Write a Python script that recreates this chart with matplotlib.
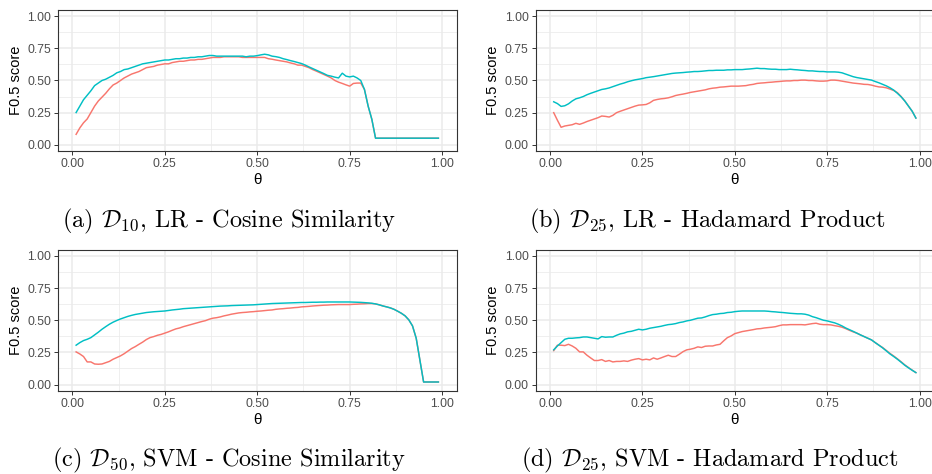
import numpy as np
import matplotlib
matplotlib.use("Agg")
import matplotlib.pyplot as plt
from matplotlib.ticker import MultipleLocator

plt.rcParams["mathtext.fontset"] = "cm"

# threshold grid (0.01 .. 0.99)
theta = [i / 100 for i in range(1, 100)]

# (a) D10, LR - Cosine Similarity
a_red = [0.08, 0.13, 0.17, 0.20, 0.25, 0.30, 0.34, 0.37, 0.40, 0.435,
         0.465, 0.48, 0.50, 0.52, 0.535, 0.55, 0.56, 0.57, 0.585, 0.60,
         0.605, 0.61, 0.62, 0.625, 0.63, 0.63, 0.64, 0.645, 0.65, 0.65,
         0.655, 0.66, 0.66, 0.665, 0.665, 0.67, 0.675, 0.68, 0.68, 0.68,
         0.685, 0.685, 0.685, 0.685, 0.685, 0.68, 0.68, 0.68, 0.68, 0.68,
         0.68, 0.68, 0.67, 0.666, 0.66, 0.655, 0.65, 0.645, 0.637, 0.63,
         0.62, 0.62, 0.61, 0.60, 0.585, 0.573, 0.56, 0.547, 0.534, 0.52,
         0.50, 0.487, 0.477, 0.466, 0.456, 0.477, 0.48, 0.48, 0.43, 0.30,
         0.197, 0.05, 0.05, 0.05, 0.05, 0.05, 0.05, 0.05, 0.05, 0.05,
         0.05, 0.05, 0.05, 0.05, 0.05, 0.05, 0.05, 0.05, 0.05]
a_cyan = [0.25, 0.30, 0.35, 0.385, 0.42, 0.46, 0.48, 0.50, 0.51, 0.525,
          0.54, 0.56, 0.57, 0.585, 0.59, 0.60, 0.61, 0.62, 0.63, 0.635,
          0.64, 0.645, 0.65, 0.655, 0.66, 0.66, 0.665, 0.67, 0.67, 0.675,
          0.675, 0.68, 0.68, 0.685, 0.685, 0.69, 0.695, 0.695, 0.69, 0.69,
          0.69, 0.69, 0.69, 0.69, 0.69, 0.69, 0.685, 0.69, 0.69, 0.694,
          0.70, 0.705, 0.70, 0.69, 0.686, 0.68, 0.67, 0.663, 0.655, 0.648,
          0.64, 0.632, 0.62, 0.606, 0.593, 0.58, 0.567, 0.554, 0.54, 0.534,
          0.526, 0.52, 0.557, 0.534, 0.528, 0.534, 0.52, 0.50, 0.43, 0.30,
          0.197, 0.05, 0.05, 0.05, 0.05, 0.05, 0.05, 0.05, 0.05, 0.05,
          0.05, 0.05, 0.05, 0.05, 0.05, 0.05, 0.05, 0.05, 0.05]

# (b) D25, LR - Hadamard Product
b_red = [0.249, 0.19, 0.135, 0.145, 0.15, 0.155, 0.166, 0.158, 0.168, 0.18,
         0.19, 0.20, 0.21, 0.223, 0.22, 0.215, 0.228, 0.249, 0.26, 0.27,
         0.28, 0.29, 0.30, 0.308, 0.31, 0.313, 0.326, 0.345, 0.352, 0.357,
         0.36, 0.365, 0.373, 0.383, 0.389, 0.394, 0.40, 0.407, 0.412, 0.417,
         0.422, 0.427, 0.435, 0.44, 0.443, 0.448, 0.45, 0.453, 0.456, 0.456,
         0.456, 0.458, 0.46, 0.466, 0.47, 0.477, 0.48, 0.482, 0.485, 0.487,
         0.49, 0.492, 0.495, 0.497, 0.497, 0.50, 0.50, 0.503, 0.503, 0.50,
         0.50, 0.497, 0.495, 0.495, 0.497, 0.503, 0.503, 0.50, 0.495, 0.49,
         0.485, 0.48, 0.477, 0.474, 0.47, 0.469, 0.464, 0.456, 0.45, 0.448,
         0.443, 0.433, 0.422, 0.405, 0.375, 0.34, 0.30, 0.26, 0.207]
b_cyan = [0.334, 0.32, 0.298, 0.303, 0.318, 0.34, 0.357, 0.365, 0.375, 0.389,
          0.40, 0.41, 0.42, 0.43, 0.435, 0.442, 0.452, 0.462, 0.472, 0.48,
          0.49, 0.498, 0.505, 0.51, 0.515, 0.522, 0.526, 0.53, 0.535, 0.54,
          0.545, 0.55, 0.555, 0.558, 0.56, 0.562, 0.565, 0.567, 0.57, 0.57,
          0.572, 0.575, 0.578, 0.578, 0.58, 0.58, 0.58, 0.583, 0.583, 0.585,
          0.585, 0.585, 0.588, 0.59, 0.593, 0.596, 0.593, 0.593, 0.59, 0.588,
          0.588, 0.585, 0.585, 0.585, 0.588, 0.585, 0.583, 0.58, 0.578, 0.575,
          0.575, 0.572, 0.57, 0.57, 0.567, 0.567, 0.567, 0.565, 0.56, 0.55,
          0.54, 0.53, 0.523, 0.518, 0.513, 0.508, 0.503, 0.492, 0.482, 0.47,
          0.458, 0.443, 0.425, 0.40, 0.373, 0.34, 0.30, 0.26, 0.207]

# (c) D50, SVM - Cosine Similarity
c_red = [0.254, 0.238, 0.218, 0.176, 0.176, 0.16, 0.158, 0.16, 0.17, 0.18,
         0.197, 0.21, 0.223, 0.24, 0.26, 0.28, 0.295, 0.313, 0.33, 0.35,
         0.365, 0.373, 0.383, 0.39, 0.40, 0.41, 0.422, 0.433, 0.44, 0.45,
         0.458, 0.466, 0.474, 0.482, 0.49, 0.497, 0.508, 0.516, 0.52, 0.526,
         0.534, 0.54, 0.547, 0.552, 0.557, 0.56, 0.562, 0.565, 0.567, 0.57,
         0.572, 0.575, 0.578, 0.58, 0.585, 0.588, 0.59, 0.593, 0.595, 0.598,
         0.60, 0.604, 0.606, 0.608, 0.611, 0.613, 0.615, 0.617, 0.618, 0.62,
         0.621, 0.622, 0.622, 0.622, 0.622, 0.624, 0.625, 0.627, 0.628, 0.63,
         0.63, 0.627, 0.62, 0.611, 0.604, 0.596, 0.585, 0.57, 0.554, 0.534,
         0.503, 0.456, 0.36, 0.19, 0.02, 0.02, 0.02, 0.02, 0.02]
c_cyan = [0.306, 0.326, 0.342, 0.352, 0.365, 0.386, 0.407, 0.43, 0.45, 0.469,
          0.485, 0.498, 0.51, 0.52, 0.53, 0.538, 0.545, 0.55, 0.555, 0.56,
          0.563, 0.566, 0.568, 0.57, 0.572, 0.576, 0.58, 0.583, 0.586, 0.59,
          0.592, 0.594, 0.596, 0.598, 0.60, 0.602, 0.604, 0.606, 0.608, 0.61,
          0.611, 0.612, 0.614, 0.615, 0.616, 0.617, 0.618, 0.619, 0.62, 0.622,
          0.624, 0.626, 0.628, 0.63, 0.631, 0.632, 0.633, 0.634, 0.635, 0.636,
          0.637, 0.638, 0.638, 0.639, 0.64, 0.64, 0.641, 0.641, 0.642, 0.642,
          0.642, 0.642, 0.642, 0.642, 0.642, 0.641, 0.64, 0.639, 0.637, 0.635,
          0.632, 0.627, 0.62, 0.611, 0.604, 0.596, 0.585, 0.57, 0.554, 0.534,
          0.503, 0.456, 0.36, 0.19, 0.02, 0.02, 0.02, 0.02, 0.02]

# (d) D25, SVM - Hadamard Product
d_red = [0.264, 0.306, 0.306, 0.303, 0.313, 0.30, 0.282, 0.254, 0.254, 0.228,
         0.207, 0.187, 0.187, 0.194, 0.18, 0.187, 0.176, 0.18, 0.18, 0.184,
         0.18, 0.19, 0.197, 0.202, 0.192, 0.197, 0.192, 0.207, 0.197, 0.207,
         0.218, 0.228, 0.218, 0.218, 0.236, 0.256, 0.27, 0.275, 0.282, 0.293,
         0.288, 0.298, 0.30, 0.30, 0.308, 0.313, 0.34, 0.365, 0.378, 0.396,
         0.404, 0.412, 0.417, 0.422, 0.427, 0.433, 0.435, 0.44, 0.443, 0.446,
         0.45, 0.458, 0.464, 0.464, 0.466, 0.466, 0.466, 0.466, 0.464, 0.469,
         0.474, 0.477, 0.469, 0.466, 0.466, 0.464, 0.458, 0.453, 0.446, 0.435,
         0.422, 0.41, 0.40, 0.386, 0.373, 0.36, 0.347, 0.326, 0.306, 0.288,
         0.265, 0.242, 0.222, 0.20, 0.177, 0.153, 0.132, 0.112, 0.093]
d_cyan = [0.27, 0.30, 0.326, 0.352, 0.36, 0.36, 0.363, 0.365, 0.37, 0.37,
          0.365, 0.36, 0.355, 0.373, 0.368, 0.37, 0.37, 0.383, 0.394, 0.40,
          0.41, 0.414, 0.422, 0.43, 0.425, 0.43, 0.438, 0.443, 0.448, 0.453,
          0.46, 0.466, 0.469, 0.474, 0.482, 0.487, 0.495, 0.50, 0.508, 0.516,
          0.518, 0.526, 0.536, 0.544, 0.547, 0.552, 0.554, 0.56, 0.562, 0.567,
          0.57, 0.572, 0.572, 0.572, 0.572, 0.572, 0.572, 0.572, 0.57, 0.567,
          0.565, 0.562, 0.56, 0.557, 0.554, 0.552, 0.55, 0.55, 0.547, 0.54,
          0.528, 0.52, 0.51, 0.50, 0.495, 0.487, 0.48, 0.469, 0.456, 0.44,
          0.427, 0.414, 0.40, 0.386, 0.373, 0.36, 0.347, 0.326, 0.306, 0.285,
          0.262, 0.238, 0.218, 0.197, 0.174, 0.15, 0.13, 0.111, 0.093]

captions = [r"(a) $\mathcal{D}_{10}$, LR - Cosine Similarity",
            r"(b) $\mathcal{D}_{25}$, LR - Hadamard Product",
            r"(c) $\mathcal{D}_{50}$, SVM - Cosine Similarity",
            r"(d) $\mathcal{D}_{25}$, SVM - Hadamard Product"]

RED = "#F8766D"
CYAN = "#00BFC4"
W, H = 932, 474

fig = plt.figure(figsize=(W / 100, H / 100), dpi=100)

# axes boxes in pixels: left, top, right, bottom
boxes = [(58, 10, 456.5, 151), (535.6, 10, 934, 151),
         (58, 249.5, 456.5, 391), (535.6, 249.5, 934, 391)]
cap_pos = [(229, 221), (707, 221), (229, 460), (710, 460)]
series = [(a_red, a_cyan), (b_red, b_cyan), (c_red, c_cyan), (d_red, d_cyan)]

for (l, t, r, b), (red, cyan), cap, (cx, cy) in zip(boxes, series, captions, cap_pos):
    ax = fig.add_axes([l / W, 1 - b / H, (r - l) / W, (b - t) / H])
    ax.plot(theta, red, color=RED, lw=1.05, zorder=3)
    ax.plot(theta, cyan, color=CYAN, lw=1.05, zorder=4)
    ax.set_xlim(-0.039, 1.039)
    ax.set_ylim(-0.05, 1.05)
    ax.xaxis.set_major_locator(MultipleLocator(0.25))
    ax.yaxis.set_major_locator(MultipleLocator(0.25))
    ax.xaxis.set_minor_locator(MultipleLocator(0.125))
    ax.yaxis.set_minor_locator(MultipleLocator(0.125))
    ax.xaxis.set_major_formatter(lambda v, p: f"{v:.2f}")
    ax.yaxis.set_major_formatter(lambda v, p: f"{v:.2f}")
    ax.grid(which="major", color="#EBEBEB", lw=1.1, zorder=0)
    ax.grid(which="minor", color="#EBEBEB", lw=0.55, zorder=0)
    ax.set_axisbelow(True)
    for s in ax.spines.values():
        s.set_color("#333333")
        s.set_linewidth(0.8)
    ax.tick_params(which="major", length=3, width=0.7, color="#333333",
                   labelsize=8.8, labelcolor="#4D4D4D", pad=2)
    ax.tick_params(which="minor", length=0)
    for lab in ax.get_xticklabels() + ax.get_yticklabels():
        lab.set_family("Liberation Sans")
    ax.set_xlabel("θ", fontsize=11, family="Liberation Sans", labelpad=2)
    ax.set_ylabel("F0.5 score", fontsize=10.5, family="Liberation Sans", labelpad=3)
    fig.text(cx / W, 1 - cy / H, cap, ha="center", va="center",
             fontsize=17.5, family="cmr10")

fig.savefig("out.png", dpi=100)
